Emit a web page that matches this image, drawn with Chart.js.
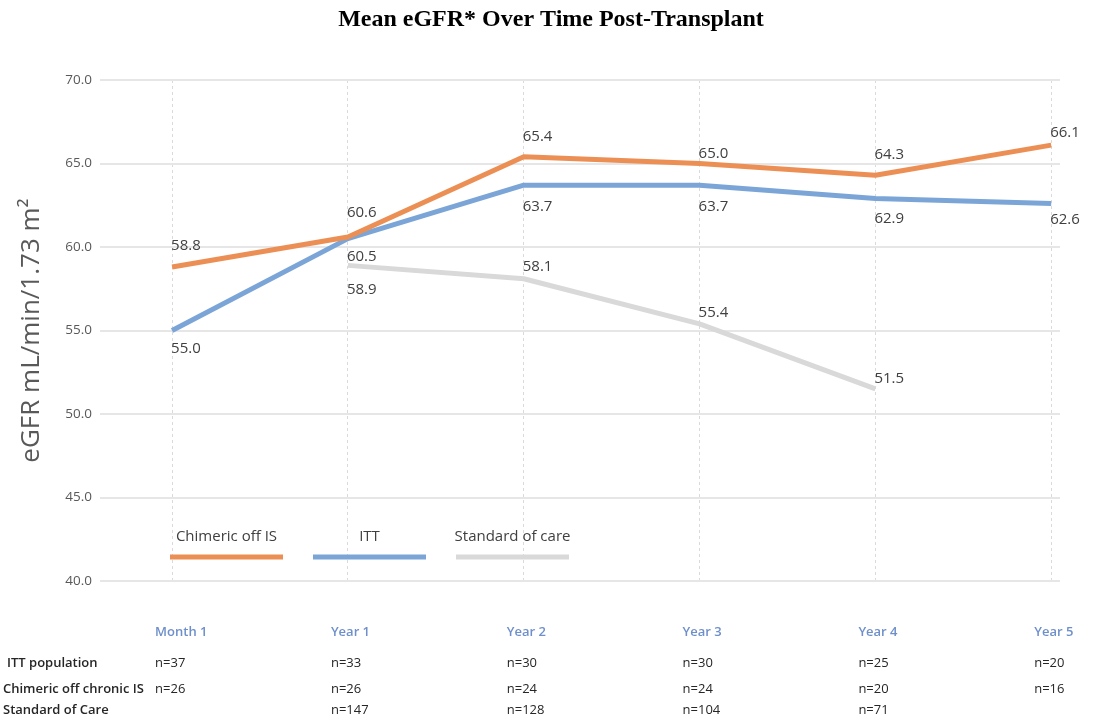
<!DOCTYPE html>
<html>
<head>
<meta charset="utf-8">
<script src="https://cdn.jsdelivr.net/npm/chart.js@4.4.1/dist/chart.umd.min.js"></script>
<style>
  html, body { margin: 0; padding: 0; background: #fff; }
  #wrap { width: 1093px; height: 720px; position: relative; }
</style>
</head>
<body>
<div id="wrap"><canvas id="c" width="1093" height="720"></canvas></div>
<script>
// ---- data ----
const categories = ['Month 1', 'Year 1', 'Year 2', 'Year 3', 'Year 4', 'Year 5'];
const chimericOffIS = [58.8, 60.6, 65.4, 65.0, 64.3, 66.1];
const itt = [55.0, 60.5, 63.7, 63.7, 62.9, 62.6];
const standardOfCare = [null, 58.9, 58.1, 55.4, 51.5, null];
const yTicks = [40, 45, 50, 55, 60, 65, 70];
const seriesNames = ['Chimeric off IS', 'ITT', 'Standard of care'];
const tableRowNames = ['ITT population', 'Chimeric off chronic IS', 'Standard of Care'];
const nITT = ['n=37', 'n=33', 'n=30', 'n=30', 'n=25', 'n=20'];
const nChimeric = ['n=26', 'n=26', 'n=24', 'n=24', 'n=20', 'n=16'];
const nSOC = ['', 'n=147', 'n=128', 'n=104', 'n=71', ''];
const chartTitle = 'Mean eGFR* Over Time Post-Transplant';

// ---- styles ----
const colors = ['#EC8F55', '#7BA5D7', '#D9D9D9'];
const labelOffsets = [
  [-21, -24, -20, -10, -20, -12],
  [18, 18, 22, 22, 20, 16],
  [0, 24, -12, -11, -10, 0]
];
const FONT = '"Open Sans", "Noto Sans", sans-serif';

const xVals = categories.map((c, i) => i);
const toPts = arr => arr.map((v, i) => ({ x: i, y: v }));

const titlePlugin = {
  id: 'customTitle',
  afterDraw(chart) {
    const ctx = chart.ctx;
    ctx.save();
    ctx.font = 'bold 24px "Liberation Serif", "Times New Roman", serif';
    ctx.fillStyle = '#000';
    ctx.textAlign = 'center';
    ctx.textBaseline = 'middle';
    ctx.fillText(chartTitle, 551, 20);
    ctx.restore();
  }
};

const labelsPlugin = {
  id: 'valueLabels',
  afterDatasetsDraw(chart) {
    const ctx = chart.ctx;
    ctx.save();
    ctx.font = '15px ' + FONT;
    ctx.fillStyle = '#404040';
    ctx.textAlign = 'left';
    ctx.textBaseline = 'middle';
    chart.data.datasets.forEach((ds, di) => {
      const meta = chart.getDatasetMeta(di);
      meta.data.forEach((pt, i) => {
        const v = ds.data[i].y;
        if (v === null || v === undefined) return;
        ctx.fillText(v.toFixed(1), pt.x - 1, pt.y + labelOffsets[di][i]);
      });
    });
    ctx.restore();
  }
};

const legendPlugin = {
  id: 'customLegend',
  afterDraw(chart) {
    const ctx = chart.ctx;
    const area = chart.chartArea;
    const lineW = 113, gap = 30;
    const startX = area.left + 70;
    const lineY = area.bottom - 24;
    ctx.save();
    ctx.font = '15px ' + FONT;
    ctx.textAlign = 'center';
    ctx.textBaseline = 'middle';
    seriesNames.forEach((name, i) => {
      const x0 = startX + i * (lineW + gap);
      ctx.strokeStyle = colors[i];
      ctx.lineWidth = 5;
      ctx.beginPath();
      ctx.moveTo(x0, lineY);
      ctx.lineTo(x0 + lineW, lineY);
      ctx.stroke();
      ctx.fillStyle = '#404040';
      ctx.fillText(name, x0 + lineW / 2, lineY - 20);
    });
    ctx.restore();
  }
};

const tablePlugin = {
  id: 'bottomTable',
  afterDraw(chart) {
    const ctx = chart.ctx;
    const xs = chart.scales.x;
    const area = chart.chartArea;
    ctx.save();
    ctx.textBaseline = 'middle';
    ctx.textAlign = 'left';
    // category labels
    ctx.font = '600 13px ' + FONT;
    ctx.fillStyle = '#6E8FCB';
    const labY = area.bottom + 51;
    categories.forEach((c, i) => {
      ctx.fillText(c, xs.getPixelForValue(i) - 17, labY);
    });
    // rows
    const rows = [nITT, nChimeric, nSOC];
    const rowY = [area.bottom + 82, area.bottom + 108, area.bottom + 129];
    rows.forEach((row, r) => {
      ctx.font = '600 13px ' + FONT;
      ctx.fillStyle = '#262626';
      ctx.fillText(tableRowNames[r], r === 0 ? 7 : 3, rowY[r]);
      ctx.font = '13px ' + FONT;
      ctx.fillStyle = '#262626';
      row.forEach((t, i) => {
        if (!t) return;
        ctx.fillText(t, xs.getPixelForValue(i) - 17, rowY[r]);
      });
    });
    ctx.restore();
  }
};

new Chart(document.getElementById('c'), {
  type: 'line',
  data: {
    datasets: [
      { label: seriesNames[0], data: toPts(chimericOffIS), borderColor: colors[0] },
      { label: seriesNames[1], data: toPts(itt), borderColor: colors[1] },
      { label: seriesNames[2], data: toPts(standardOfCare), borderColor: colors[2] }
    ].map(d => Object.assign(d, {
      borderWidth: 5, pointRadius: 0, pointHoverRadius: 0, tension: 0,
      fill: false, spanGaps: false, borderCapStyle: 'butt', borderJoinStyle: 'round'
    }))
  },
  options: {
    responsive: false,
    animation: false,
    events: [],
    layout: { padding: { top: 80, left: 0, right: 33, bottom: 139 } },
    plugins: {
      legend: { display: false },
      tooltip: { enabled: false },
      title: { display: false }
    },
    scales: {
      x: {
        type: 'linear',
        min: -0.41,
        max: 5.05,
        afterBuildTicks: s => { s.ticks = xVals.map(v => ({ value: v })); },
        ticks: { display: false },
        grid: { color: '#DADADA', lineWidth: 1, drawTicks: false },
        border: { display: false, dash: [3, 3] }
      },
      y: {
        min: 40,
        max: 70,
        afterBuildTicks: s => { s.ticks = yTicks.map(v => ({ value: v })); },
        afterFit: s => { s.width = 100; },
        ticks: {
          color: '#595959',
          font: { family: FONT, size: 13.5 },
          padding: 8,
          callback: v => Number(v).toFixed(1)
        },
        grid: { color: '#E6E6E6', lineWidth: 2, drawTicks: false },
        border: { display: false },
        title: {
          display: true,
          text: 'eGFR mL/min/1.73 m²',
          color: '#595959',
          font: { family: FONT, size: 26 },
          padding: { top: 16, bottom: 0 }
        }
      }
    }
  },
  plugins: [labelsPlugin, legendPlugin, tablePlugin, titlePlugin]
});
</script>
</body>
</html>
